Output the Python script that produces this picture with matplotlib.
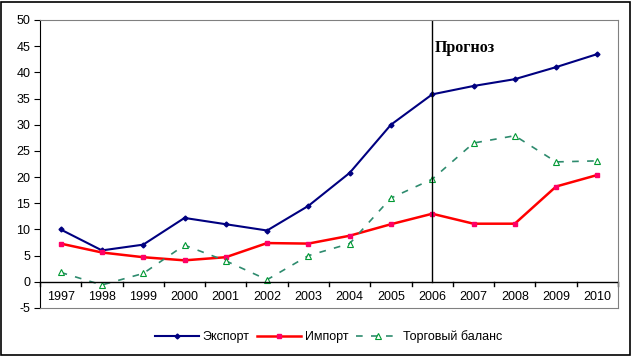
import matplotlib
matplotlib.use("Agg")
import matplotlib.pyplot as plt
from matplotlib.patches import Rectangle

years = ["1997", "1998", "1999", "2000", "2001", "2002", "2003",
         "2004", "2005", "2006", "2007", "2008", "2009", "2010"]
export = [10.0, 6.0, 7.1, 12.2, 11.0, 9.8, 14.5, 20.8, 30.0, 35.8, 37.4, 38.7, 41.0, 43.5]
imports = [7.3, 5.6, 4.7, 4.1, 4.7, 7.4, 7.3, 8.8, 11.0, 13.0, 11.1, 11.1, 18.2, 20.4]
balance = [1.8, -0.6, 1.6, 7.0, 4.0, 0.4, 5.0, 7.3, 16.0, 19.6, 26.5, 27.9, 22.9, 23.1]
yticks = [-5, 0, 5, 10, 15, 20, 25, 30, 35, 40, 45, 50]

plt.rcParams['font.family'] = ['Liberation Sans', 'DejaVu Sans']

fig = plt.figure(figsize=(6.32, 3.56), dpi=100)
ax = fig.add_axes([40/632, 1 - 308/356, 578/632, 288/356])

x = list(range(len(years)))
ax.plot(x, export, color='#000080', lw=1.5, marker='D', ms=2.5, label='Экспорт')
ax.plot(x, imports, color='#FF0000', lw=1.8, marker='s', ms=3, mfc='#FF0066', mec='#FF0066', label='Импорт')
ax.plot(x, balance, color='#2E8B6E', lw=1.2, ls=(0, (4, 5)), marker='^', ms=4,
        mfc='white', mec='#009933', mew=0.8, label='Торговый баланс')

ax.set_xlim(-0.5, len(years) - 0.5)
ax.set_ylim(-5, 50)
ax.set_yticks(yticks)
ax.set_yticklabels([str(v) for v in yticks], fontsize=9)
ax.tick_params(axis='y', length=4, direction='out', pad=3)

# x axis at zero
ax.set_xticks([])
ax.axhline(0, color='black', lw=1)
for i in range(len(years) + 1):
    ax.plot([i - 0.5, i - 0.5], [0, -0.8], color='black', lw=1, clip_on=False)
for i, yr in enumerate(years):
    ax.text(i, -2.9, yr, ha='center', va='center', fontsize=9)

ax.plot([9, 9], [0, 50], color='black', lw=1)
ax.text(9.05, 44.6, 'Прогноз', fontsize=11.5, fontweight='bold',
        family=['Liberation Serif', 'DejaVu Serif'], ha='left', va='center')

for s in ['top', 'right', 'bottom']:
    ax.spines[s].set_color('#808080')
ax.spines['left'].set_color('black')

leg = ax.legend(loc='center', bbox_to_anchor=(0.5, -0.1), ncol=3, frameon=False,
                fontsize=9, handlelength=3.5, columnspacing=0.6, handletextpad=0.3)

fig.patches.append(Rectangle((1/632, 1/356), 629/632, 353/356, transform=fig.transFigure,
                             fill=False, edgecolor='black', lw=1.2))

fig.savefig('out.png', dpi=100)
